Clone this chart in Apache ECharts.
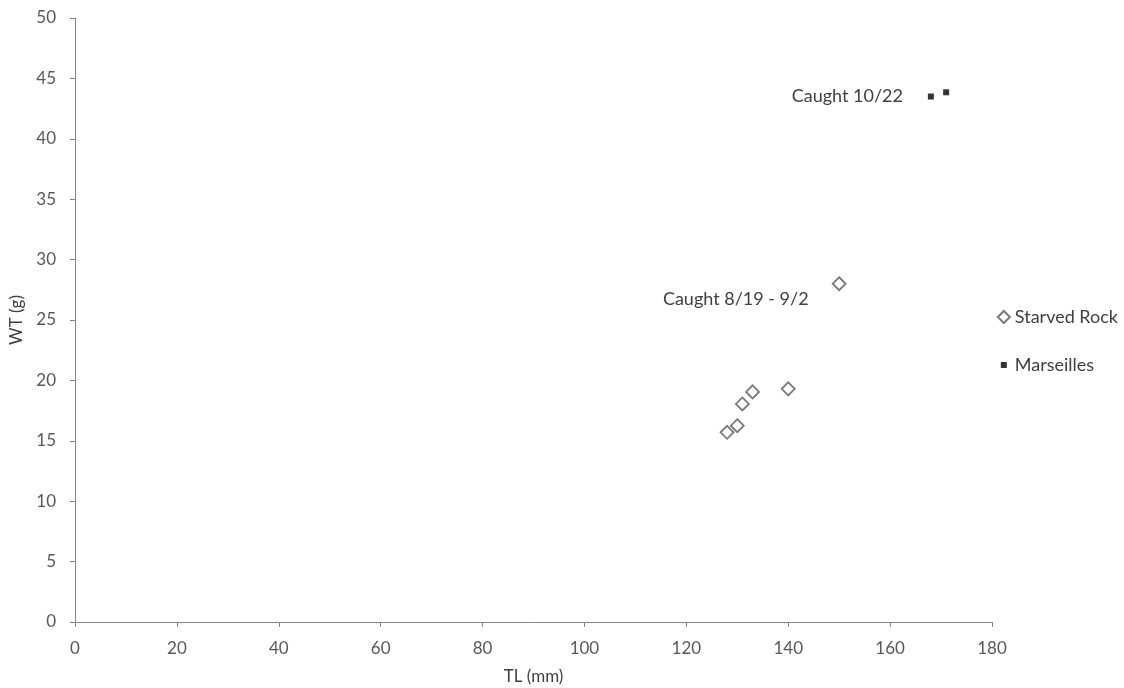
<!DOCTYPE html>
<html>
<head>
<meta charset="utf-8">
<script src="https://cdn.jsdelivr.net/npm/echarts@6/dist/echarts.min.js"></script>
<style>html,body{margin:0;padding:0;background:#fff}#c{width:1124px;height:688px}</style>
</head>
<body>
<div id="c"></div>
<script>
const starvedRockTL = [150, 140, 133, 131, 130, 128];
const starvedRockWT = [28.0, 19.3, 19.05, 18.05, 16.25, 15.7];
const marseillesTL = [168, 171];
const marseillesWT = [43.5, 43.85];
const seriesNames = ['Starved Rock', 'Marseilles'];
const annotations = [
  { text: 'Caught 10/22', x: 151.6, y: 43.5 },
  { text: 'Caught 8/19 - 9/2', x: 129.7, y: 26.7 }
];
const xTitle = 'TL (mm)';
const yTitle = 'WT (g)';

const font = 'Lato, "Open Sans", sans-serif';
const chart = echarts.init(document.getElementById('c'));
chart.setOption({
  animation: false,
  backgroundColor: '#fff',
  textStyle: { fontFamily: font },
  grid: { left: 75, right: 132, top: 18, bottom: 66, containLabel: false, outerBoundsMode: 'none' },
  legend: {
    orient: 'vertical',
    right: 1,
    top: 303,
    itemGap: 30,
    itemWidth: 12,
    itemHeight: 12,
    textStyle: { fontSize: 18, lineHeight: 18, color: '#404040', fontFamily: font },
    data: [
      { name: seriesNames[0] },
      { name: seriesNames[1], icon: 'path://M0,0M12,12M3,3L9,3L9,9L3,9Z' }
    ]
  },
  xAxis: {
    type: 'value', min: 0, max: 180, interval: 20,
    name: xTitle, nameLocation: 'middle', nameGap: 46,
    nameTextStyle: { fontSize: 17, color: '#404040' },
    axisLine: { show: true, lineStyle: { color: '#868686', width: 1 } },
    axisTick: { show: true, length: 5, lineStyle: { color: '#868686' } },
    axisLabel: { fontSize: 17, color: '#595959', margin: 18 },
    splitLine: { show: false }
  },
  yAxis: {
    type: 'value', min: 0, max: 50, interval: 5,
    name: yTitle, nameLocation: 'middle', nameGap: 44, nameRotate: 90,
    nameTextStyle: { fontSize: 17, color: '#404040' },
    axisLine: { show: true, lineStyle: { color: '#868686', width: 1 } },
    axisTick: { show: true, length: 5, lineStyle: { color: '#868686' } },
    axisLabel: { fontSize: 17, color: '#595959', margin: 19 },
    splitLine: { show: false }
  },
  series: [
    {
      name: seriesNames[0], type: 'scatter', symbol: 'diamond', symbolSize: 13,
      itemStyle: { color: '#fff', borderColor: '#595959', borderWidth: 1.8 },
      data: starvedRockTL.map((v, i) => [v, starvedRockWT[i]]),
      markPoint: {
        symbol: 'circle', symbolSize: 0,
        label: { show: true, position: 'inside', fontSize: 18, color: '#404040', formatter: p => p.name },
        data: [{ name: annotations[1].text, coord: [annotations[1].x, annotations[1].y] }]
      }
    },
    {
      name: seriesNames[1], type: 'scatter', symbol: 'rect', symbolSize: 6,
      itemStyle: { color: '#000' },
      data: marseillesTL.map((v, i) => [v, marseillesWT[i]]),
      markPoint: {
        symbol: 'circle', symbolSize: 0,
        label: { show: true, position: 'inside', fontSize: 18, color: '#404040', formatter: p => p.name },
        data: [{ name: annotations[0].text, coord: [annotations[0].x, annotations[0].y] }]
      }
    }
  ]
});
</script>
</body>
</html>
